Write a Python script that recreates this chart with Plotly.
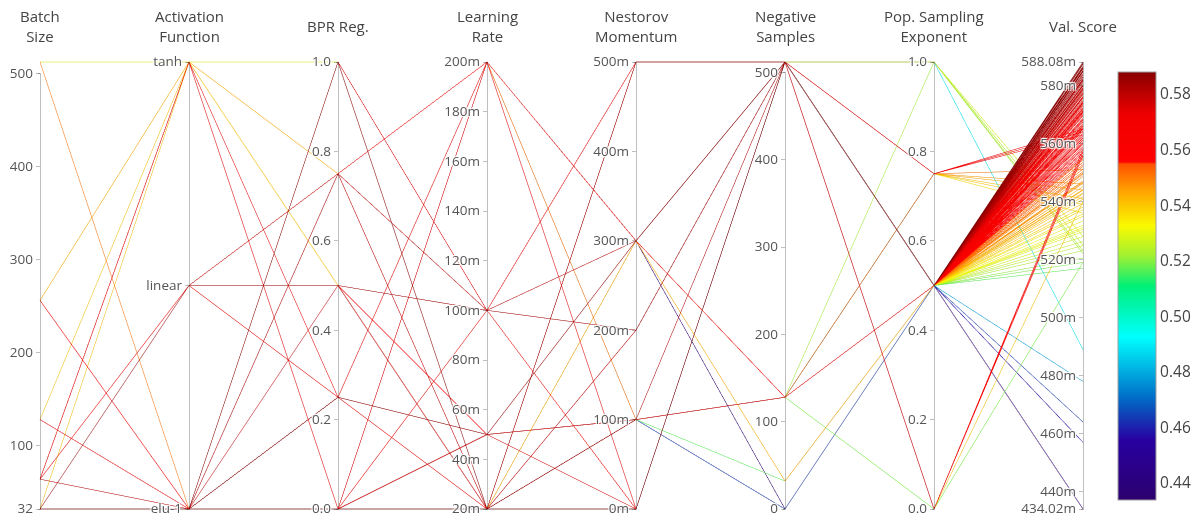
import plotly.graph_objects as go

# Hyperparameter sweep runs (one entry per run)
N_MAIN = 96
batch_size = [
    512, 512, 256, 256, 128, 128, 64, 64, 64, 64, 32, 32, 32,
    32, 32, 32, 32, 32, 32, 32, 32, 32, 32, 32, 32, 32, 32, 32,
    32, 32, 32, 32, 32, 32, 32, 32, 32, 32, 32, 32,
] + [32] * N_MAIN
activation = [
    2, 0, 2, 0, 2, 0, 2, 2, 1, 0, 2, 1, 1,
    0, 0, 0, 0, 0, 0, 0, 0, 0, 0, 0, 0, 0, 0, 0,
    0, 0, 0, 0, 0, 0, 0, 0, 0, 0, 0, 0,
] + [0] * N_MAIN
bpr_reg = [
    1.0, 0.0, 0.75, 0.0, 0.5, 1.0, 0.25, 0.0, 0.25, 0.75, 0.0, 0.5, 0.75,
    0.0, 0.0, 0.0, 0.0, 0.0, 0.0, 0.0, 0.0, 0.0, 0.0, 0.0, 0.0, 0.25, 0.5, 0.0,
    0.75, 0.0, 0.0, 0.0, 0.0, 0.0, 0.25, 0.0, 0.0, 1.0, 0.5, 0.25,
] + [0.0] * N_MAIN
learning_rate = [
    0.02, 0.2, 0.02, 0.05, 0.02, 0.1, 0.2, 0.1, 0.05, 0.1, 0.05, 0.1, 0.02,
    0.02, 0.02, 0.02, 0.02, 0.05, 0.02, 0.02, 0.02, 0.02, 0.02, 0.02, 0.05, 0.2, 0.05, 0.2,
    0.2, 0.02, 0.05, 0.05, 0.05, 0.2, 0.05, 0.02, 0.02, 0.02, 0.02, 0.02,
] + [0.02] * N_MAIN
momentum = [
    0.0, 0.1, 0.3, 0.1, 0.0, 0.5, 0.3, 0.0, 0.0, 0.3, 0.1, 0.2, 0.5,
    0.5, 0.0, 0.0, 0.5, 0.1, 0.3, 0.1, 0.1, 0.0, 0.1, 0.0, 0.1, 0.0, 0.0, 0.0,
    0.3, 0.0, 0.1, 0.1, 0.1, 0.1, 0.3, 0.2, 0.1, 0.0, 0.5, 0.0,
] + [0.0] * N_MAIN
neg_samples = [
    512, 128, 32, 128, 512, 512, 128, 512, 512, 512, 128, 512, 512,
    512, 512, 512, 512, 128, 0, 0, 0, 512, 32, 512, 128, 512, 512, 512,
    512, 512, 128, 128, 128, 128, 512, 512, 512, 512, 512, 512,
] + [512] * N_MAIN
pop_exponent = [
    0.5, 0.75, 0.5, 0.5, 0.0, 0.5, 0.5, 0.75, 0.5, 0.5, 0.75, 0.5, 0.5,
    1.0, 1.0, 1.0, 1.0, 1.0, 0.5, 0.5, 0.5, 0.5, 0.5, 0.5, 0.0, 0.0, 0.0, 0.0,
    0.75, 0.75, 0.75, 0.75, 0.75, 0.75, 0.5, 0.5, 0.5, 0.5, 0.5, 0.5,
] + [0.5] * N_MAIN
val_score = [
    0.531, 0.551, 0.543, 0.562, 0.540, 0.574, 0.566, 0.565, 0.571, 0.580, 0.541, 0.583, 0.577,
    0.489, 0.528, 0.525, 0.522, 0.523, 0.43402, 0.457, 0.464, 0.478, 0.517, 0.519, 0.519, 0.557, 0.558, 0.556,
    0.564, 0.563, 0.546, 0.539, 0.536, 0.544, 0.585, 0.579, 0.582, 0.586, 0.576, 0.572,
    # runs sharing the most common configuration
    0.5205, 0.5231, 0.5248, 0.5262, 0.5279, 0.5296, 0.5304, 0.5318, 0.5333, 0.5349,
    0.5357, 0.5372, 0.5381, 0.5394, 0.5408, 0.5417, 0.5426, 0.5441, 0.5452, 0.5463,
    0.5471, 0.5486, 0.5494, 0.5503, 0.5512, 0.5527, 0.5535, 0.5548, 0.5559, 0.5566,
    0.5578, 0.5589, 0.5597, 0.5606, 0.5618, 0.5625, 0.5637, 0.5649, 0.5656, 0.5668,
    0.5679, 0.5687, 0.5695, 0.5708, 0.5716, 0.5729, 0.5738, 0.5746, 0.5757, 0.5769,
    0.5778, 0.5787, 0.5798, 0.5809, 0.5818, 0.5829, 0.5841, 0.5852, 0.5866, 0.5873,
    0.5553, 0.5571, 0.5583, 0.5601, 0.5612, 0.5631, 0.5644, 0.5652, 0.5663, 0.5674,
    0.5683, 0.5699, 0.5704, 0.5712, 0.5723, 0.5734, 0.5742, 0.5751, 0.5762, 0.5774,
    0.5783, 0.5792, 0.5803, 0.5814, 0.5823, 0.5836, 0.5847, 0.5858, 0.5862, 0.5877,
    0.5439, 0.5467, 0.5498, 0.5521, 0.5544,
    0.58808,
]

# Axis titles and tick labels
axis_titles = [
    "Batch<br>Size", "Activation<br>Function", "BPR Reg.", "Learning<br>Rate",
    "Nestorov<br>Momentum", "Negative<br>Samples", "Pop. Sampling<br>Exponent", "Val. Score",
]
activation_names = ["elu-1", "linear", "tanh"]
batch_ticks = [32, 100, 200, 300, 400, 500]
unit_ticks = [0.0, 0.2, 0.4, 0.6, 0.8, 1.0]
lr_ticks = [0.02, 0.04, 0.06, 0.08, 0.1, 0.12, 0.14, 0.16, 0.18, 0.2]
lr_labels = ["20m", "40m", "60m", "80m", "100m", "120m", "140m", "160m", "180m", "200m"]
momentum_ticks = [0.0, 0.1, 0.2, 0.3, 0.4, 0.5]
momentum_labels = ["0m", "100m", "200m", "300m", "400m", "500m"]
neg_ticks = [0, 100, 200, 300, 400, 500]
score_ticks = [0.44, 0.46, 0.48, 0.50, 0.52, 0.54, 0.56, 0.58]
colorbar_ticks = [0.44, 0.46, 0.48, 0.50, 0.52, 0.54, 0.56, 0.58]

score_scale = [
    [0.00, "rgb(45,0,110)"],
    [0.14, "rgb(40,0,160)"],
    [0.24, "rgb(0,110,200)"],
    [0.38, "rgb(0,255,255)"],
    [0.50, "rgb(0,240,120)"],
    [0.57, "rgb(160,240,50)"],
    [0.64, "rgb(250,250,0)"],
    [0.72, "rgb(255,165,0)"],
    [0.785, "rgb(255,80,0)"],
    [0.79, "rgb(255,0,0)"],
    [0.90, "rgb(240,0,0)"],
    [1.00, "rgb(135,0,0)"],
]

lo, hi = min(val_score), max(val_score)


def milli(v):
    txt = f"{v * 1000:.2f}".rstrip("0").rstrip(".")
    return txt + "m"


score_tickvals = [lo] + score_ticks + [hi]
score_ticktext = [milli(v) for v in score_tickvals]

fig = go.Figure(go.Parcoords(
    line=dict(
        color=val_score, colorscale=score_scale, cmin=lo, cmax=hi,
        showscale=True,
        colorbar=dict(thickness=38, len=428, lenmode="pixels", ypad=0,
                      y=0.5, yanchor="middle", x=1.0336, xanchor="left", xpad=0,
                      outlinecolor="#a0a0a0", outlinewidth=1,
                      tickvals=colorbar_ticks, tickformat=".2f",
                      tickfont=dict(size=15.5, color="#444"), ticks=""),
    ),
    dimensions=[
        dict(label="", values=batch_size, range=[32, 512], tickvals=batch_ticks),
        dict(label="", values=activation, range=[0, 2],
             tickvals=[0, 1, 2], ticktext=activation_names),
        dict(label="", values=bpr_reg, range=[0, 1], tickvals=unit_ticks, tickformat=".1f"),
        dict(label="", values=learning_rate, range=[0.02, 0.2],
             tickvals=lr_ticks, ticktext=lr_labels),
        dict(label="", values=momentum, range=[0, 0.5],
             tickvals=momentum_ticks, ticktext=momentum_labels),
        dict(label="", values=neg_samples, range=[0, 512], tickvals=neg_ticks),
        dict(label="", values=pop_exponent, range=[0, 1], tickvals=unit_ticks,
             tickformat=".1f"),
        dict(label="", values=val_score, range=[lo, hi],
             tickvals=score_tickvals, ticktext=score_ticktext),
    ],
    tickfont=dict(size=13.5, color="#555"),
    rangefont=dict(size=1, color="rgba(0,0,0,0)"),
))

# Axis titles, centred above each axis
n_axes = len(axis_titles)
for i, title in enumerate(axis_titles):
    fig.add_annotation(
        text=title, xref="paper", yref="paper",
        x=i / (n_axes - 1), y=1 + 34 / 451, xanchor="center", yanchor="middle",
        showarrow=False, font=dict(size=15, color="#444", family="Open Sans"),
    )

fig.update_layout(
    width=1201, height=520,
    margin=dict(l=40, r=118, t=60, b=9, autoexpand=False),
    font=dict(family="Open Sans"),
    paper_bgcolor="white",
)

fig.write_html("out.html")
